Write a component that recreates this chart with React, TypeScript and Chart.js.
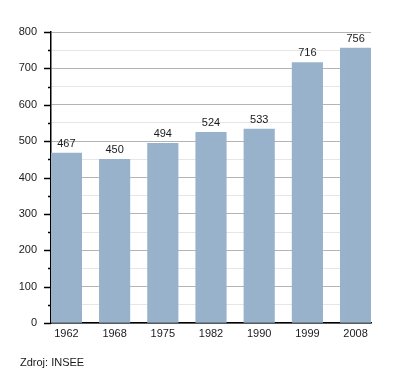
import { useEffect, useRef } from "react";
import { Chart, registerables } from "chart.js";

Chart.register(...registerables);

const years = ["1962", "1968", "1975", "1982", "1990", "1999", "2008"];
const population = [467, 450, 494, 524, 533, 716, 756];
const yMin = 0;
const yMax = 800;
const yMinorStep = 50;
const yMajorStep = 100;
const sourceText = "Zdroj: INSEE";

const FONT = "'Liberation Sans', Arial, Helvetica, sans-serif";
const BAR_COLOR = "#98b2cc";
const TEXT_COLOR = "#1a1a1a";

const valueLabels = {
  id: "valueLabels",
  afterDatasetsDraw(chart: any) {
    const ctx = chart.ctx;
    const meta = chart.getDatasetMeta(0);
    ctx.save();
    ctx.font = `11px ${FONT}`;
    ctx.fillStyle = TEXT_COLOR;
    ctx.textAlign = "center";
    ctx.textBaseline = "bottom";
    meta.data.forEach((bar: any, i: number) => {
      ctx.fillText(String(population[i]), bar.x, bar.y - 4);
    });
    ctx.restore();
  },
};

const yTickMarks = {
  id: "yTickMarks",
  afterDraw(chart: any) {
    const ctx = chart.ctx;
    const y = chart.scales.y;
    const left = chart.chartArea.left;
    ctx.save();
    ctx.strokeStyle = "#000";
    ctx.lineWidth = 1.5;
    for (let v = yMin; v <= yMax; v += yMinorStep) {
      const py = Math.round(y.getPixelForValue(v)) + 0.5;
      const len = v % yMajorStep === 0 ? 7 : 3;
      ctx.beginPath();
      ctx.moveTo(left - len, py);
      ctx.lineTo(left, py);
      ctx.stroke();
    }
    ctx.restore();
  },
};

export default function App() {
  const ref = useRef<HTMLCanvasElement | null>(null);

  useEffect(() => {
    if (!ref.current) return;
    const chart = new Chart(ref.current, {
      type: "bar",
      data: {
        datasets: [
          {
            data: population.map((v, i) => ({ x: i, y: v })),
            backgroundColor: BAR_COLOR,
            borderWidth: 0,
            barThickness: 30.5,
          },
        ],
      },
      options: {
        responsive: false,
        animation: false,
        devicePixelRatio: 1,
        layout: { padding: { left: 0, right: 29, top: 32, bottom: 0 } },
        plugins: {
          legend: { display: false },
          tooltip: { enabled: false },
        },
        scales: {
          x: {
            type: "linear",
            offset: false,
            min: -0.32,
            max: years.length - 1 + 0.32,
            afterBuildTicks: (axis: any) => {
              axis.ticks = years.map((_, i) => ({ value: i }));
            },
            afterFit: (scale: any) => {
              scale.height = 50;
            },
            ticks: {
              autoSkip: false,
              maxRotation: 0,
              padding: 4,
              color: TEXT_COLOR,
              font: { family: FONT, size: 11 },
              callback: (v: any) => years[Math.round(Number(v))] ?? "",
            },
            grid: { display: false, drawTicks: false, offset: false },
            border: { display: true, color: "#000", width: 1.5 },
          },
          y: {
            min: yMin,
            max: yMax,
            afterFit: (scale: any) => {
              scale.width = 51;
            },
            ticks: {
              stepSize: yMinorStep,
              autoSkip: false,
              padding: 14,
              color: TEXT_COLOR,
              font: { family: FONT, size: 11 },
              callback: (v: any) => (Number(v) % yMajorStep === 0 ? String(v) : ""),
            },
            grid: {
              drawTicks: false,
              color: (c: any) =>
                c.tick && c.tick.value % yMajorStep === 0 ? "#b4b4b4" : "#e6e6e6",
              lineWidth: 1,
            },
            border: { display: true, color: "#000", width: 1.5 },
          },
        },
      },
      plugins: [valueLabels, yTickMarks],
    });
    return () => chart.destroy();
  }, []);

  return (
    <div style={{ position: "fixed", left: 0, top: 0, width: 400, height: 373, background: "#fff" }}>
      <canvas ref={ref} width={400} height={373} style={{ display: "block" }} />
      <div
        style={{
          position: "absolute",
          left: 20,
          top: 356,
          fontFamily: FONT,
          fontSize: 11,
          color: TEXT_COLOR,
          lineHeight: "13px",
        }}
      >
        {sourceText}
      </div>
    </div>
  );
}
